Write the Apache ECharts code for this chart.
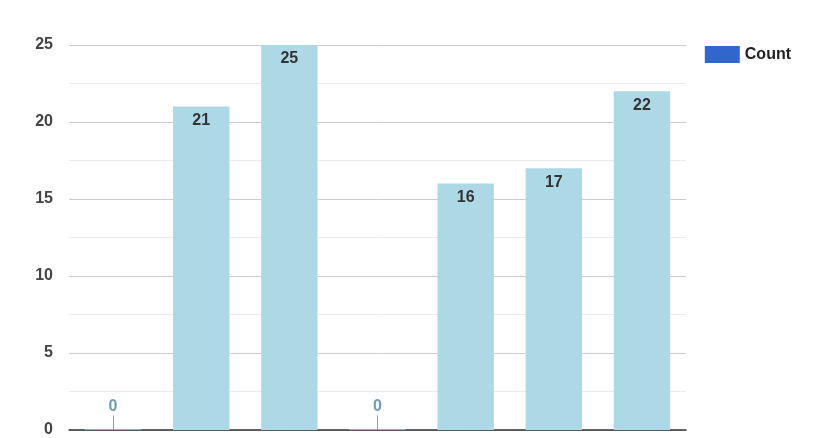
<!DOCTYPE html>
<html><head><meta charset="utf-8">
<script src="https://cdn.jsdelivr.net/npm/echarts@6/dist/echarts.min.js"></script>
<style>html,body{margin:0;padding:0;background:#fff}#c{width:824px;height:438px}</style>
</head><body><div id="c"></div>
<script>
const categories = ['A','B','C','D','E','F','G'];
const counts = [0, 21, 25, 0, 16, 17, 22];
const seriesName = 'Count';
const yTicks = [0, 5, 10, 15, 20, 25];

const barColor = '#add8e6';
const zeroIdx = counts.map((v,i)=>v===0?i:-1).filter(i=>i>=0);

const chart = echarts.init(document.getElementById('c'));
chart.setOption({
  animation: false,
  textStyle: { fontFamily: 'Liberation Sans, Arial, sans-serif' },
  grid: { left: 69, right: 138, top: 45, bottom: 8, containLabel: false },
  legend: {
    right: 28, top: 41, itemWidth: 35, itemHeight: 17, itemGap: 8,
    icon: 'rect',
    textStyle: { fontWeight: 'bold', fontSize: 16, color: '#222' },
    data: [seriesName]
  },
  xAxis: {
    type: 'category', data: categories,
    axisLine: { lineStyle: { color: '#333', width: 1.5 } },
    axisTick: { show: false }, axisLabel: { show: false }
  },
  yAxis: {
    type: 'value', min: yTicks[0], max: yTicks[yTicks.length-1], interval: 5,
    axisLine: { show: false }, axisTick: { show: false },
    axisLabel: { margin: 16, fontWeight: 'bold', fontSize: 16, color: '#444', verticalAlign: 'middle', padding: [7, 0, 0, 0] },
    splitLine: { lineStyle: { color: '#cccccc' } },
    minorTick: { show: false, splitNumber: 2 },
    minorSplitLine: { show: true, lineStyle: { color: '#ebebeb' } }
  },
  series: [{
    name: seriesName, type: 'bar', barCategoryGap: '36%',
    itemStyle: { color: '#3366cc' },
    barMinHeight: 1,
    data: counts.map(v => ({
      value: v,
      itemStyle: { color: v === 0 ? '#8fb3c4' : barColor },
      label: v === 0
        ? { position: 'top', distance: 14, color: '#6f9cb5' }
        : { position: 'insideTop', distance: 6, color: '#333' }
    })),
    label: { show: true, fontWeight: 'bold', fontSize: 16 },
    markLine: {
      silent: true, symbol: 'none', label: { show: false },
      lineStyle: { color: '#999', type: 'solid', width: 1 },
      data: zeroIdx.map(i => [{ coord: [i, 0] }, { coord: [i, 0.95] }])
    }
  }]
});
</script></body></html>
